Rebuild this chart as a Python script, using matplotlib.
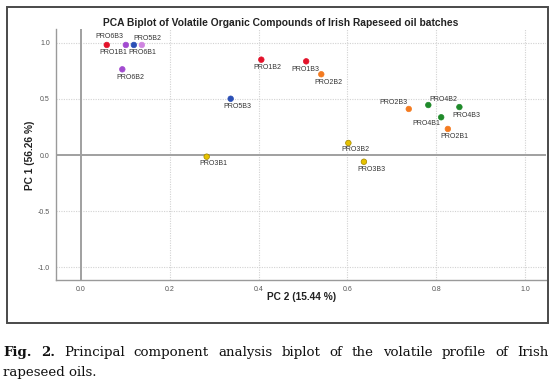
import matplotlib
matplotlib.use('Agg')
import matplotlib.pyplot as plt
from matplotlib.patches import Rectangle

# ---- data ----
labels = ['PRO1B1', 'PRO6B3', 'PRO5B2', 'PRO6B1', 'PRO6B2', 'PRO1B2', 'PRO5B3',
          'PRO3B1', 'PRO1B3', 'PRO2B2', 'PRO3B2', 'PRO3B3', 'PRO2B3', 'PRO4B2',
          'PRO4B3', 'PRO4B1', 'PRO2B1']
pc2 = [0.058, 0.101, 0.119, 0.137, 0.093, 0.406, 0.337,
       0.283, 0.507, 0.541, 0.602, 0.637, 0.738, 0.782,
       0.852, 0.811, 0.826]
pc1 = [0.980, 0.980, 0.980, 0.980, 0.763, 0.849, 0.501,
       -0.015, 0.834, 0.719, 0.107, -0.060, 0.410, 0.445,
       0.427, 0.336, 0.232]
groups = ['PRO1', 'PRO6', 'PRO5', 'PRO6b', 'PRO6', 'PRO1', 'PRO5',
          'PRO3', 'PRO1', 'PRO2', 'PRO3', 'PRO3', 'PRO2', 'PRO4',
          'PRO4', 'PRO4', 'PRO2']
xticks = [0.0, 0.2, 0.4, 0.6, 0.8, 1.0]
yticks = [-1.0, -0.5, 0.0, 0.5, 1.0]

# ---- style ----
group_colors = {'PRO1': '#e3122a', 'PRO2': '#f47b20', 'PRO3': '#e6c200',
                'PRO4': '#1f8a2a', 'PRO5': '#2b4fb5', 'PRO6': '#a24bd0',
                'PRO6b': '#cf84e0'}
group_edges = {'PRO3': '#a08400'}
# label offsets in pixels (dx right, dy down)
label_offsets = [(7, 8), (-16, -8), (14, -6), (0, 8), (8, 8), (6, 8), (7, 8),
                 (7, 7), (-1, 8), (7, 8), (7, 7), (8, 8), (-15, -6), (15, -6),
                 (7, 8), (-15, 6), (7, 8)]

W, H = 554, 386
fig = plt.figure(figsize=(W / 100, H / 100), dpi=100)
fig.patch.set_facecolor('white')


def fx(px):
    return px / W


def fy(py):
    return 1 - py / H


# outer frame
fig.patches.append(Rectangle((fx(7), fy(323)), fx(548) - fx(7), fy(7) - fy(323),
                             transform=fig.transFigure, fill=False,
                             edgecolor='#4a4a4a', linewidth=1.4))

ax = fig.add_axes([fx(56), fy(280), fx(546) - fx(56), fy(29) - fy(280)])
ax.set_xlim(-0.0563, 1.047)
ax.set_ylim(-1.113, 1.122)

for s in ['top', 'right']:
    ax.spines[s].set_visible(False)
for s in ['left', 'bottom']:
    ax.spines[s].set_color('#9a9a9a')
    ax.spines[s].set_linewidth(1.0)

# grid lines
for xv in xticks[1:]:
    ax.axvline(xv, color='#d2d2d2', lw=0.8, ls=(0, (1.0, 1.2)), zorder=0)
for yv in yticks:
    if yv != 0:
        ax.axhline(yv, color='#d2d2d2', lw=0.8, ls=(0, (1.0, 1.2)), zorder=0)
ax.axhline(0, color='#a0a0a0', lw=1.4, zorder=1)
ax.axvline(0, color='#a0a0a0', lw=1.4, zorder=1)

ax.set_xticks(xticks)
ax.set_xticklabels([f'{v:.1f}' for v in xticks])
ax.set_yticks(yticks)
ax.set_yticklabels([f'{v:.1f}' for v in yticks])
ax.tick_params(length=0, labelsize=5, labelcolor='#555555', pad=4.5)
for t in ax.get_xticklabels() + ax.get_yticklabels():
    t.set_family('Liberation Sans')

cols = [group_colors[g] for g in groups]
edges = [group_edges.get(g, group_colors[g]) for g in groups]
ax.scatter(pc2, pc1, s=16, c=cols, edgecolors=edges, linewidths=0.5, zorder=3)

for lab, x, y, (dx, dy) in zip(labels, pc2, pc1, label_offsets):
    ax.annotate(lab, (x, y), xytext=(dx, -dy), textcoords='offset pixels',
                ha='center', va='center', fontsize=5, color='#333333',
                family='Liberation Sans', zorder=4)

fig.text(fx(281), fy(22.5),
         'PCA Biplot of Volatile Organic Compounds of Irish Rapeseed oil batches',
         ha='center', va='center', fontsize=7.35, fontweight='bold',
         family='Liberation Sans', color='#222222')
fig.text(fx(302), fy(297.5), 'PC 2 (15.44 %)', ha='center', va='center',
         fontsize=7.3, fontweight='bold', family='Liberation Sans', color='#222222')
fig.text(fx(30), fy(155), 'PC 1 (56.26 %)', ha='center', va='center',
         rotation=90, fontsize=7.3, fontweight='bold', family='Liberation Sans',
         color='#222222')

# caption, first line justified
cap_words = 'Fig. 2. Principal component analysis biplot of the volatile profile of Irish'.split()
txts = []
for i, w in enumerate(cap_words):
    txts.append(fig.text(0, fy(352.5), w, ha='left', va='center', fontsize=9.6,
                         family='DejaVu Serif', color='#111111',
                         fontweight='bold' if i < 2 else 'normal'))
fig.canvas.draw()
r = fig.canvas.get_renderer()
widths = [t.get_window_extent(r).width for t in txts]
x0, x1 = 3.0, 549.0
gap = (x1 - x0 - sum(widths)) / (len(txts) - 1)
xpos = x0
for t, wd in zip(txts, widths):
    t.set_x(fx(xpos))
    xpos += wd + gap
fig.text(fx(3), fy(372.5), 'rapeseed oils.', ha='left', va='center', fontsize=9.6,
         family='DejaVu Serif', color='#111111')

fig.savefig('out.png', dpi=100, facecolor='white')
